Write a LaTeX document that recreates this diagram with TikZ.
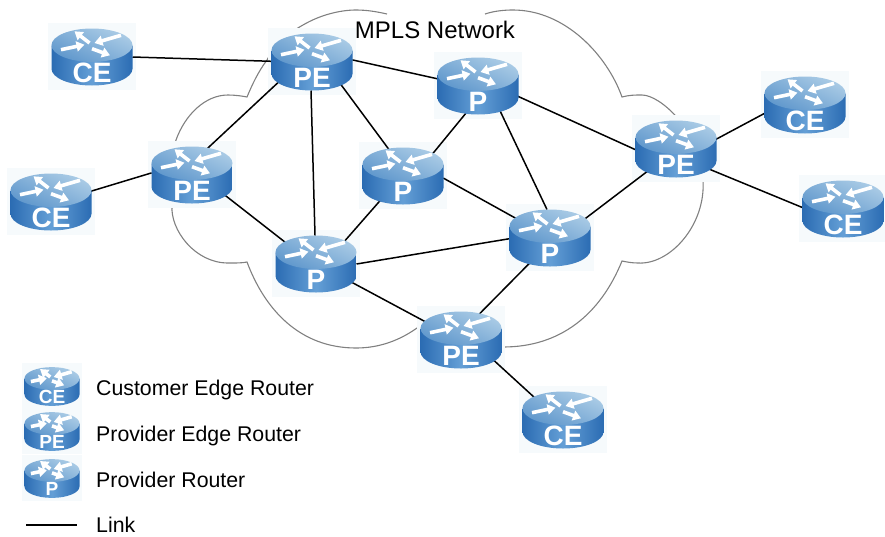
\documentclass[tikz,border=0pt]{standalone}
\usepackage{fontspec}
\setmainfont{Liberation Sans}
\usepackage{tikz}
\usetikzlibrary{arrows.meta,shapes.geometric,positioning}
\definecolor{iconback}{HTML}{F6FAFC}
\definecolor{rimdark}{HTML}{2B6CB3}
\definecolor{rimlight}{HTML}{7DB5E5}
\definecolor{topdark}{HTML}{5F97CC}
\definecolor{toplight}{HTML}{ABCCE6}
\pgfdeclarelayer{back}
\pgfdeclarelayer{links}
\pgfsetlayers{back,links,main}
\tikzset{
    routerbase/.style = {ellipse,minimum width=81pt,minimum height=57pt,inner sep=0pt,outer sep=0pt},
    routertext/.style = {text=white,font=\fontsize{28}{28}\selectfont\bfseries,inner sep=0pt},
    turn/.style = {white,line width=3.6pt,-{Triangle[width=10pt,length=8pt]}},
    link/.style = {black,line width=1.5pt},
    cloudline/.style = {gray,line width=1.1pt},
    legendtext/.style = {anchor=base west,inner sep=0pt,font=\fontsize{21.3}{24}\selectfont}
}
\newcommand{\router}[4][1]{
    \begin{scope}[shift={(#3)},scale=#1,transform shape]
        \begin{pgfonlayer}{back}
            \fill [iconback] (-44,-33) rectangle (44,34);
        \end{pgfonlayer}
        \shade [left color=rimdark,right color=rimdark,middle color=rimlight!70!rimdark]
            (-40.5,11.5) -- (-40.5,-11.8) arc [start angle=180,end angle=360,x radius=40.5,y radius=16.7] -- (40.5,11.5) -- cycle;
        \shade [top color=toplight,bottom color=topdark,shading angle=-25]
            (0,11.8) ellipse [x radius=40.5,y radius=16.7];
        \draw [turn] (-2.5,14) -- (-17.5,25.7);
        \draw [turn] (-31,7.3) -- (-7.5,12.3);
        \draw [turn] (29,21.7) -- (2.5,14);
        \draw [turn] (0,8.3) -- (18,1.7);
        \node [routerbase] (#2) at (0,0) {};
        \node [routertext] (#2text) at (0,-16) {#4};
    \end{scope}
}
\begin{document}
\begin{tikzpicture}[x=1pt,y=1pt]
    \useasboundingbox (0,-536) rectangle (885,0);
    \begin{pgfonlayer}{back}
        \draw [cloudline] (485,-14) .. controls (494,-11) and (504,-10) .. (513,-10)
            .. controls (565,-10) and (607,-55) .. (622,-97)
            .. controls (630,-95) and (634,-95) .. (642,-95)
            .. controls (660,-95) and (700,-130) .. (703,-180)
            .. controls (706,-225) and (670,-265) .. (638,-263)
            .. controls (632,-263) and (627,-262) .. (622,-261)
            .. controls (600,-315) and (560,-347) .. (503,-347)
            .. controls (470,-347) and (440,-310) .. (417,-328)
            .. controls (400,-340) and (380,-348) .. (356,-348)
            .. controls (300,-348) and (265,-310) .. (247,-262)
            .. controls (242,-263) and (238,-263) .. (228,-263)
            .. controls (195,-263) and (170,-230) .. (172,-205)
            .. controls (170,-180) and (170,-160) .. (176,-140)
            .. controls (185,-115) and (205,-95) .. (228,-95)
            .. controls (235,-95) and (242,-96) .. (247,-97)
            .. controls (252,-85) and (258,-72) .. (267,-60)
            .. controls (275,-45) and (285,-35) .. (303,-25)
            .. controls (320,-15) and (340,-10) .. (356,-10)
            .. controls (368,-10) and (378,-12) .. (387,-14);
    \end{pgfonlayer}
    \node [anchor=base,inner sep=0pt,font=\fontsize{24}{28}\selectfont] (title) at (435,-38) {MPLS Network};

    \router{cenw}{92,-57}{CE}
    \router{pen}{312,-62}{PE}
    \router{ptop}{478,-86}{P}
    \router{pee}{676,-149}{PE}
    \router{cene}{805,-105}{CE}
    \router{cee}{843,-209}{CE}
    \router{pew}{192,-175}{PE}
    \router{cew}{51,-202}{CE}
    \router{pmid}{403,-176}{P}
    \router{pleft}{316,-264}{P}
    \router{pright}{550,-238}{P}
    \router{pes}{461,-340}{PE}
    \router{ces}{563,-420}{CE}

    \begin{pgfonlayer}{links}
        \draw [link] (cenw.0) -- (pen.179);
        \draw [link] (pen.3) -- (ptop.170);
        \draw [link] (pen.210) -- (pew.60);
        \draw [link] (pen.268) -- (pleft.92);
        \draw [link] (pen.323) -- (pmid.118);
        \draw [link] (ptop.246) -- (pmid.36);
        \draw [link] (ptop.312) -- (pright.96);
        \draw [link] (ptop.346) -- (pee.181);
        \draw [link] (pee.218) -- (pright.28);
        \draw [link] (pee.13) -- (cene.191);
        \draw [link] (pee.328) -- (cee.178);
        \draw [link] (pmid.357) -- (pright.150);
        \draw [link] (pmid.227) -- (pleft.38);
        \draw [link] (pleft.145) -- (pew.329);
        \draw [link] (pleft.0) -- (pright.181);
        \draw [link] (pleft.333) -- (pes.153);
        \draw [link] (pright.231) -- (pes.55);
        \draw [link] (pes.329) -- (ces.142);
        \draw [link] (pew.177) -- (cew.15);
    \end{pgfonlayer}

    \router[0.68]{keyce}{52,-386.5}{CE}
    \router[0.68]{keype}{52,-431.5}{PE}
    \router[0.68]{keyp}{52,-478.5}{P}
    \node [legendtext] (keycetext) at (96,-395) {Customer Edge Router};
    \node [legendtext] (keypetext) at (96,-441) {Provider Edge Router};
    \node [legendtext] (keyptext) at (96,-487) {Provider Router};
    \node [legendtext] (keylinktext) at (96,-532.5) {Link};
    \coordinate (keylinka) at (26,-525);
    \coordinate (keylinkb) at (77,-525);
    \draw [link] (keylinka) -- (keylinkb);
\end{tikzpicture}
\end{document}
